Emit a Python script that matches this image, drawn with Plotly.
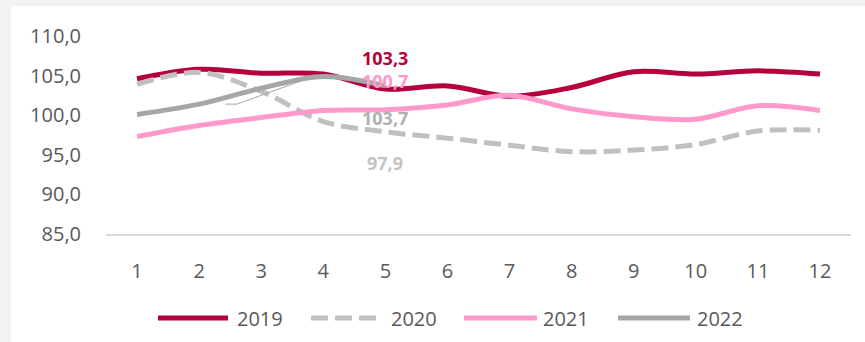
import plotly.graph_objects as go

# Monthly index values, by year
months = list(range(1, 13))
y2019 = [104.6, 105.8, 105.3, 105.2, 103.3, 103.7, 102.4, 103.5, 105.5, 105.2, 105.6, 105.2]
y2020 = [103.9, 105.4, 103.0, 99.2, 97.9, 97.1, 96.2, 95.4, 95.6, 96.3, 98.0, 98.1]
y2021 = [97.3, 98.7, 99.7, 100.6, 100.7, 101.3, 102.5, 100.8, 99.8, 99.5, 101.2, 100.6]
y2022 = [100.1, 101.4, 103.4, 104.9, 103.7]
years = ["2019", "2020", "2021", "2022"]
yticks = [85, 90, 95, 100, 105, 110]

colors = {"2019": "#b5003a", "2020": "#c0c0c0", "2021": "#ff99cc", "2022": "#a6a6a6"}
dashes = {"2019": "solid", "2020": "17px,7px", "2021": "solid", "2022": "solid"}
label_colors = {"2019": "#b5003a", "2020": "#c3c3c3", "2021": "#ff99cc", "2022": "#b0b0b0"}
series = {"2019": y2019, "2020": y2020, "2021": y2021, "2022": y2022}

W, H = 865, 342
L, R, T, B = 106, 14, 36, 108
pw, ph = W - L - R, H - T - B


def px_x(p):
    return (p - L) / pw


def px_y(p):
    return (H - B - p) / ph


def fmt(v):
    return f"{v:.1f}".replace(".", ",")


fig = go.Figure()
for yr in years:
    vals = series[yr]
    fig.add_trace(go.Scatter(
        x=months[:len(vals)], y=vals, mode="lines", name=yr,
        line=dict(color=colors[yr], width=5, shape="spline", smoothing=1, dash=dashes[yr]),
        hoverinfo="skip", showlegend=False,
    ))

shapes = [
    # white card behind the chart
    dict(type="rect", xref="paper", yref="paper", layer="below",
         x0=px_x(11), x1=1.1, y0=-0.7, y1=px_y(6),
         fillcolor="white", line=dict(width=0)),
    # label leader line
    dict(type="path", xref="x", yref="y", layer="above",
         path="M 2.42,101.4 L 2.61,101.4 L 3.88,105.0",
         line=dict(color="#a6a6a6", width=1)),
]

annotations = []
# data labels for the latest month (May)
last = len(y2022) - 1
shifts = {"2019": 31, "2021": 29, "2022": -32, "2020": -31}
for yr in ["2019", "2021", "2022", "2020"]:
    v = series[yr][last]
    annotations.append(dict(
        x=months[last], y=v, xref="x", yref="y", text=f"<b>{fmt(v)}</b>",
        showarrow=False, yshift=shifts[yr],
        font=dict(family="Open Sans", size=18, color=label_colors[yr]),
    ))

# legend drawn below the axis
leg_items = [(158, 228, 235), (311, 380, 389), (464, 537, 541), (618, 690, 695)]
ly = px_y(318)
for yr, (a, b, t) in zip(years, leg_items):
    shapes.append(dict(
        type="line", xref="paper", yref="paper", x0=px_x(a), x1=px_x(b), y0=ly, y1=ly,
        line=dict(color=colors[yr], width=5, dash=dashes[yr]),
    ))
    annotations.append(dict(
        x=px_x(t), y=ly, xref="paper", yref="paper", text=yr, showarrow=False,
        xanchor="left", yanchor="middle",
        font=dict(family="Open Sans", size=20, color="#595959"),
    ))

fig.update_layout(
    width=W, height=H,
    margin=dict(l=L, r=R, t=T, b=B),
    paper_bgcolor="#f2f2f2", plot_bgcolor="white",
    separators=", ",
    shapes=shapes, annotations=annotations,
    font=dict(family="Open Sans", size=20, color="#595959"),
)
fig.update_xaxes(
    range=[0.5, 12.5], tickvals=months, ticktext=[str(m) for m in months],
    showgrid=False, zeroline=False, showline=True, linecolor="#d9d9d9", linewidth=2,
    ticks="outside", ticklen=18, tickcolor="rgba(0,0,0,0)",
    tickfont=dict(family="Open Sans", size=20, color="#595959"),
)
fig.update_yaxes(
    range=[85, 110], tickvals=yticks, tickformat=".1f",
    showgrid=False, zeroline=False, showline=False,
    ticks="outside", ticklen=20, tickcolor="rgba(0,0,0,0)",
    tickfont=dict(family="Open Sans", size=20, color="#595959"),
)

fig.write_html("out.html")
